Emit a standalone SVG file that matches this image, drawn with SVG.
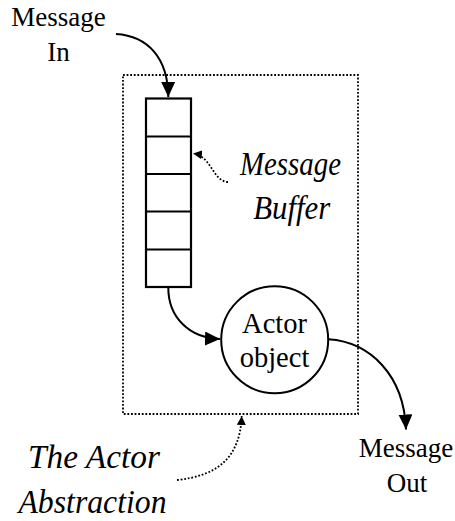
<svg xmlns="http://www.w3.org/2000/svg" width="455" height="521" viewBox="0 0 455 521">
  <style>
    .lbl { font-family: 'Liberation Serif', 'Times New Roman', 'DejaVu Serif', serif; font-size: 27px; fill: #000; text-anchor: middle; }
    .big { font-size: 28.5px; }
    .it { font-family: 'Liberation Serif', 'Times New Roman', 'DejaVu Serif', serif; font-style: italic; font-size: 34px; fill: #000; text-anchor: middle; }
    .solid { fill: none; stroke: #000; stroke-width: 2; }
    .dot { fill: none; stroke: #000; stroke-width: 1.8; stroke-dasharray: 1.8 1.8; }
    .box { fill: #fff; stroke: #000; stroke-width: 2.2; }
    .cell { stroke: #000; stroke-width: 2; }
  </style>
  <defs>
    <marker id="head" markerUnits="userSpaceOnUse" markerWidth="16" markerHeight="14" viewBox="0 0 16 14" refX="15" refY="7" orient="auto">
      <path d="M0,0 L15,7 L0,14 Z" fill="#000"/>
    </marker>
    <marker id="headSmall" markerUnits="userSpaceOnUse" markerWidth="10" markerHeight="10" viewBox="0 0 10 10" refX="9" refY="5" orient="auto">
      <path d="M0,0.5 L9,5 L0,9.5 Z" fill="#000"/>
    </marker>
  </defs>

  <!-- enclosing abstraction boundary -->
  <g id="abstraction">
    <rect x="123" y="75" width="235" height="339" fill="none" stroke="#000" stroke-width="1.8" stroke-dasharray="1.8 1.8"/>
  </g>

  <!-- message buffer: five stacked cells -->
  <g id="buffer">
    <rect class="box" x="146" y="98.5" width="45" height="188.5"/>
    <line class="cell" x1="146" y1="136.5" x2="191" y2="136.5"/>
    <line class="cell" x1="146" y1="174" x2="191" y2="174"/>
    <line class="cell" x1="146" y1="211.5" x2="191" y2="211.5"/>
    <line class="cell" x1="146" y1="249.5" x2="191" y2="249.5"/>
  </g>

  <!-- actor object -->
  <g id="actor">
    <circle cx="274.7" cy="339.7" r="53.5" fill="#fff" stroke="#000" stroke-width="2"/>
    <text class="lbl big" x="274.5" y="332.5">Actor</text>
    <text class="lbl big" x="274.5" y="366.5">object</text>
  </g>

  <g id="msg-in">
    <text class="lbl" x="58.5" y="26">Message</text>
    <text class="lbl" x="58.5" y="61">In</text>
  </g>

  <g id="msg-out">
    <text class="lbl" x="406" y="457">Message</text>
    <text class="lbl" x="407" y="491.5">Out</text>
  </g>

  <g id="buffer-label">
    <text class="it" x="290.5" y="175" textLength="101" lengthAdjust="spacingAndGlyphs">Message</text>
    <text class="it" x="291.7" y="218.5" textLength="77" lengthAdjust="spacingAndGlyphs">Buffer</text>
  </g>

  <g id="abstraction-label">
    <text class="it" x="94" y="468.3" textLength="132" lengthAdjust="spacingAndGlyphs">The Actor</text>
    <text class="it" x="92.5" y="513.3" textLength="148" lengthAdjust="spacingAndGlyphs">Abstraction</text>
  </g>

  <!-- connectors -->
  <g id="connectors">
    <path class="solid" d="M116,34 C148,36 168,58 168.3,97" marker-end="url(#head)"/>
    <path class="solid" d="M168.3,287 C168,318 190,338 220,339" marker-end="url(#head)"/>
    <path class="solid" d="M328.3,339.3 C370,342 404,375 406,429.5" marker-end="url(#head)"/>
    <path class="dot" d="M228,182 C212,181 212,156 193,153.5" marker-end="url(#headSmall)"/>
    <path class="dot" d="M177,480 C215,476 240,460 241.7,416" marker-end="url(#headSmall)"/>
  </g>
</svg>
